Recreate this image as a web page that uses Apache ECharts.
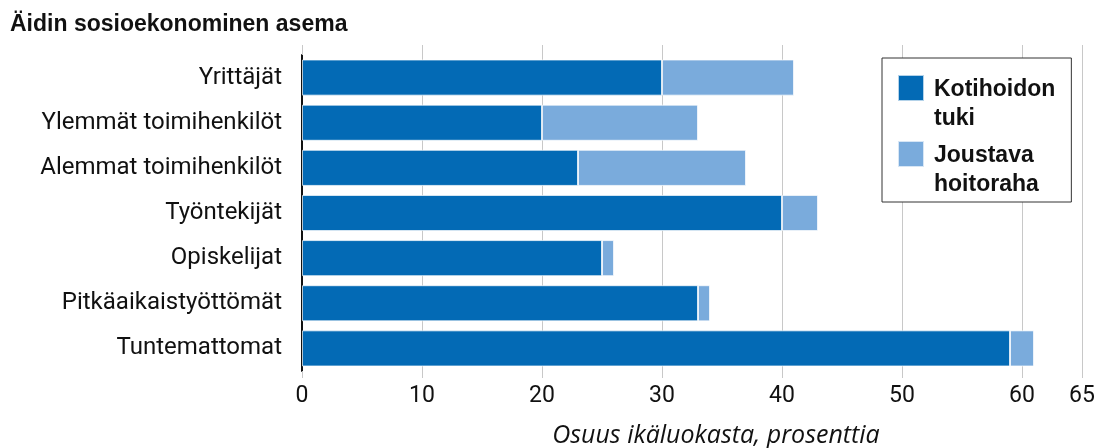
<style>
  body { margin: 0; }
</style>
<script src="https://cdn.jsdelivr.net/npm/echarts@6.0.0/dist/echarts.min.js"></script>

<div id="chart" style="width: 1098px; height: 448px;"></div>

<script>
  const categories = ['Yrittäjät', 'Ylemmät toimihenkilöt', 'Alemmat toimihenkilöt',
    'Työntekijät', 'Opiskelijat', 'Pitkäaikaistyöttömät', 'Tuntemattomat'];
  const kotihoidonTuki = [30, 20, 23, 40, 25, 33, 59];
  const joustavaHoitoraha = [11, 13, 14, 3, 1, 1, 2];
  const seriesNames = ['Kotihoidon tuki', 'Joustava hoitoraha'];

  const font = 'Roboto, "Liberation Sans", sans-serif';
  const boldFont = '"Liberation Sans", Arial, sans-serif';
  const gridGrey = '#c8c8c8';
  const myChart = echarts.init(document.getElementById('chart'), null, { renderer: 'canvas' });

  // square on the first line of a two-line legend label
  const legendIcon = 'path://M0,0H26V26H0Z M0,58L0.01,58';

  const option = {
    animation: false,
    title: {
      text: 'Äidin sosioekonominen asema',
      left: 5,
      top: 8,
      textStyle: { fontFamily: boldFont, fontWeight: 'bold', fontSize: 23, color: '#111' }
    },
    legend: {
      orient: 'vertical',
      left: 882,
      top: 58,
      padding: [16, 16, 2, 15],
      icon: legendIcon,
      itemWidth: 26,
      itemHeight: 58,
      itemGap: 6,
      borderColor: '#333',
      borderWidth: 1,
      backgroundColor: '#fff',
      formatter: (name) => name.replace(' ', '\n'),
      textStyle: {
        fontFamily: boldFont, fontWeight: 'bold', fontSize: 23, lineHeight: 29,
        color: '#111', padding: [0, 0, 0, 5]
      }
    },
    grid: { left: 302, right: 16, top: 55, bottom: 77, outerBoundsMode: 'none' },
    xAxis: [
      {
        type: 'value',
        min: 0,
        max: 65,
        interval: 10,
        name: 'Osuus ikäluokasta, prosenttia',
        nameLocation: 'middle',
        nameGap: 52,
        nameTextStyle: {
          fontFamily: '"Open Sans", sans-serif', fontStyle: 'italic', fontSize: 25,
          color: '#111', padding: [0, 0, 0, 48]
        },
        axisLine: { show: false },
        axisTick: { show: true, length: 7, lineStyle: { color: gridGrey } },
        axisLabel: { fontFamily: font, fontSize: 23, color: '#111', margin: 14 },
        splitLine: { lineStyle: { color: gridGrey, width: 1 } }
      },
      {
        type: 'value',
        position: 'top',
        min: 0,
        max: 65,
        interval: 10,
        axisLine: { show: false },
        axisTick: { show: true, length: 10, lineStyle: { color: gridGrey } },
        axisLabel: { show: false },
        splitLine: { show: false }
      }
    ],
    yAxis: {
      type: 'category',
      data: categories,
      inverse: true,
      axisLine: { show: true, lineStyle: { color: '#111', width: 2 } },
      axisTick: { show: false },
      axisLabel: { fontFamily: font, fontSize: 24, color: '#111', margin: 20 }
    },
    series: [
      {
        name: seriesNames[0],
        type: 'bar',
        stack: 'x',
        barWidth: '80%',
        data: kotihoidonTuki,
        itemStyle: { color: '#036ab5', borderColor: 'rgba(255,255,255,0.7)', borderWidth: 1 }
      },
      {
        name: seriesNames[1],
        type: 'bar',
        stack: 'x',
        barWidth: '80%',
        data: joustavaHoitoraha,
        itemStyle: { color: '#7aabdc', borderColor: 'rgba(255,255,255,0.7)', borderWidth: 1 }
      }
    ]
  };
  myChart.setOption(option);
</script>
